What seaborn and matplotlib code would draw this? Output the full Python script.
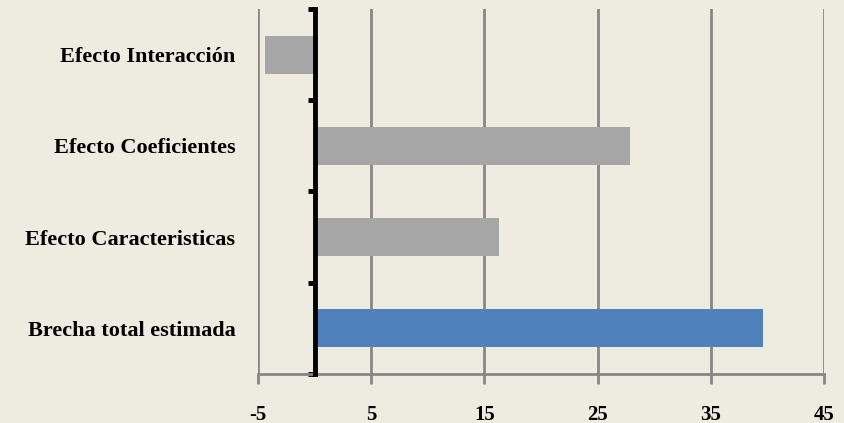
import matplotlib
matplotlib.use("Agg")
import matplotlib.pyplot as plt
import seaborn as sns
import pandas as pd
import numpy as np

categories = ["Efecto Interacción", "Efecto Coeficientes", "Efecto Caracteristicas", "Brecha total estimada"]
values = [-4.35, 27.9, 16.3, 39.6]
bar_colors = ["#A6A6A6", "#A6A6A6", "#A6A6A6", "#4F81BD"]
xticks = [-5, 5, 15, 25, 35, 45]

sns.set_theme(style="white")
plt.rcParams['font.family'] = ['Liberation Serif', 'DejaVu Serif']
bg = "#EEEBE0"

fig = plt.figure(figsize=(8.45, 4.23), dpi=100, facecolor=bg)
ax = fig.add_axes([258/845, 1-374/423, (824-258)/845, (374-9)/423])
ax.set_facecolor(bg)

df = pd.DataFrame({"cat": categories, "val": values})
sns.barplot(data=df, x="val", y="cat", hue="cat", palette=dict(zip(categories, bar_colors)),
            orient="h", width=0.415, legend=False, ax=ax, saturation=1, linewidth=0)

ax.set_xlim(-5, 45)
ax.set_ylim(3.5, -0.5)
ax.set_xticks(xticks)
ax.set_xticklabels([str(t) for t in xticks], fontsize=15, fontweight="bold", color="black")
ax.set_xlabel("")
ax.set_ylabel("")

for t in xticks:
    ax.axvline(t, color="#878787", lw=2, zorder=0)

for s in ["top", "right"]:
    ax.spines[s].set_visible(False)
ax.spines["bottom"].set_color("#878787")
ax.spines["bottom"].set_linewidth(2)
ax.spines["left"].set_position(("data", 0))
ax.spines["left"].set_color("black")
ax.spines["left"].set_linewidth(3.5)
ax.spines["left"].set_zorder(5)

ax.tick_params(axis="x", which="major", direction="out", length=7, width=2, color="#878787", pad=15, bottom=True)
ax.set_yticks(range(len(categories)))
ax.set_yticklabels(categories, fontsize=16, fontweight="bold", color="black")
ax.tick_params(axis="y", which="major", length=0, pad=57, left=True)
ax.set_yticks(np.arange(-0.5, 4, 1.0), minor=True)
ax.tick_params(axis="y", which="minor", direction="out", length=5, width=3.5, color="black", left=True)

fig.savefig("out.png", dpi=100, facecolor=bg)
